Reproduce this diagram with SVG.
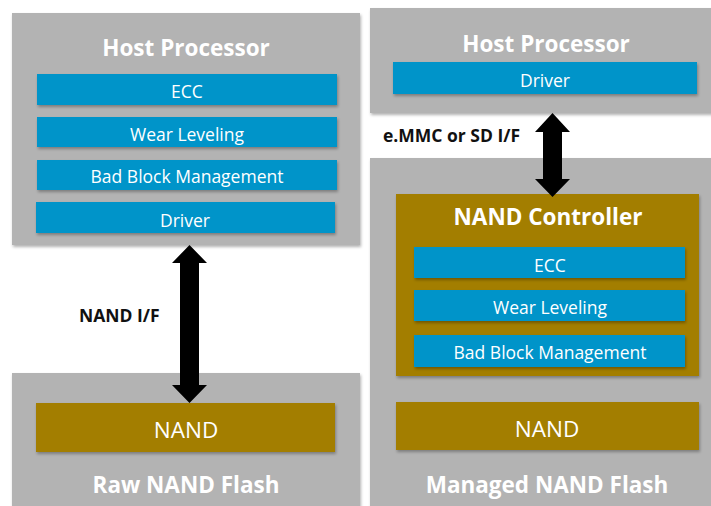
<svg xmlns="http://www.w3.org/2000/svg" width="711" height="506" viewBox="0 0 711 506">
<style>
.panel{fill:#b3b3b3}
.blue{fill:#0094c9}
.gold{fill:#a37e00}
.title{font-family:"Open Sans","Liberation Sans",sans-serif;font-weight:bold;font-size:22.5px;fill:#ffffff;text-anchor:middle}
.bar{font-family:"Open Sans","Liberation Sans",sans-serif;font-size:17.5px;fill:#ffffff;text-anchor:middle}
.nand{font-family:"Open Sans","Liberation Sans",sans-serif;font-size:22.5px;fill:#ffffff;text-anchor:middle}
.lbl{font-family:"Open Sans","Liberation Sans",sans-serif;font-weight:bold;font-size:17.5px;fill:#111111}
.arrow{fill:#000000}
</style>
<defs>
<filter id="sh" x="-5%" y="-20%" width="110%" height="150%">
<feDropShadow dx="1" dy="2" stdDeviation="1.5" flood-color="#000" flood-opacity="0.3"/>
</filter>
</defs>
<rect width="711" height="506" fill="#ffffff"/>

<g id="raw-host">
<rect class="panel" x="12" y="13" width="348" height="232" filter="url(#sh)"/>
<text class="title" x="186" y="56">Host Processor</text>
</g>
<g id="raw-ecc"><rect class="blue" x="37" y="74" width="300" height="31" filter="url(#sh)"/><text class="bar" x="187" y="98">ECC</text></g>
<g id="raw-wear"><rect class="blue" x="37" y="117" width="300" height="30" filter="url(#sh)"/><text class="bar" x="187" y="141">Wear Leveling</text></g>
<g id="raw-bbm"><rect class="blue" x="37" y="160" width="300" height="30" filter="url(#sh)"/><text class="bar" x="187" y="183">Bad Block Management</text></g>
<g id="raw-driver"><rect class="blue" x="36" y="202" width="299" height="31" filter="url(#sh)"/><text class="bar" x="185" y="227">Driver</text></g>

<g id="raw-flash">
<rect class="panel" x="12" y="373" width="348" height="140" filter="url(#sh)"/>
<text class="title" x="186" y="493">Raw NAND Flash</text>
</g>
<g id="raw-nand"><rect class="gold" x="36" y="403" width="299" height="49" filter="url(#sh)"/><text class="nand" x="186" y="438">NAND</text></g>

<g id="mgd-host">
<rect class="panel" x="370" y="8" width="345" height="105" filter="url(#sh)"/>
<text class="title" x="546" y="52">Host Processor</text>
</g>
<g id="mgd-driver"><rect class="blue" x="393" y="62" width="304" height="32" filter="url(#sh)"/><text class="bar" x="545" y="87">Driver</text></g>

<g id="mgd-flash">
<rect class="panel" x="370" y="158" width="345" height="355" filter="url(#sh)"/>
<text class="title" x="547" y="493">Managed NAND Flash</text>
</g>
<g id="mgd-controller">
<rect class="gold" x="396" y="194" width="303" height="182" filter="url(#sh)"/>
<text class="title" x="548" y="225">NAND Controller</text>
</g>
<g id="mgd-ecc"><rect class="blue" x="414" y="247" width="271" height="31" filter="url(#sh)"/><text class="bar" x="550" y="272">ECC</text></g>
<g id="mgd-wear"><rect class="blue" x="414" y="290" width="271" height="31" filter="url(#sh)"/><text class="bar" x="550" y="314">Wear Leveling</text></g>
<g id="mgd-bbm"><rect class="blue" x="414" y="335" width="271" height="32" filter="url(#sh)"/><text class="bar" x="550" y="359">Bad Block Management</text></g>
<g id="mgd-nand"><rect class="gold" x="396" y="402" width="303" height="48" filter="url(#sh)"/><text class="nand" x="547" y="437">NAND</text></g>

<g id="connectors">
<polygon class="arrow" points="189.5,245 207,263 199,263 199,385 207,385 189.5,403 172,385 180,385 180,263 172,263"/>
<text class="lbl" x="79" y="322">NAND I/F</text>
<polygon class="arrow" points="552.5,113 570,132 562,132 562,179 570,179 552.5,197 535,179 543,179 543,132 535,132"/>
<text class="lbl" x="383" y="142">e.MMC or SD I/F</text>
</g>
</svg>
